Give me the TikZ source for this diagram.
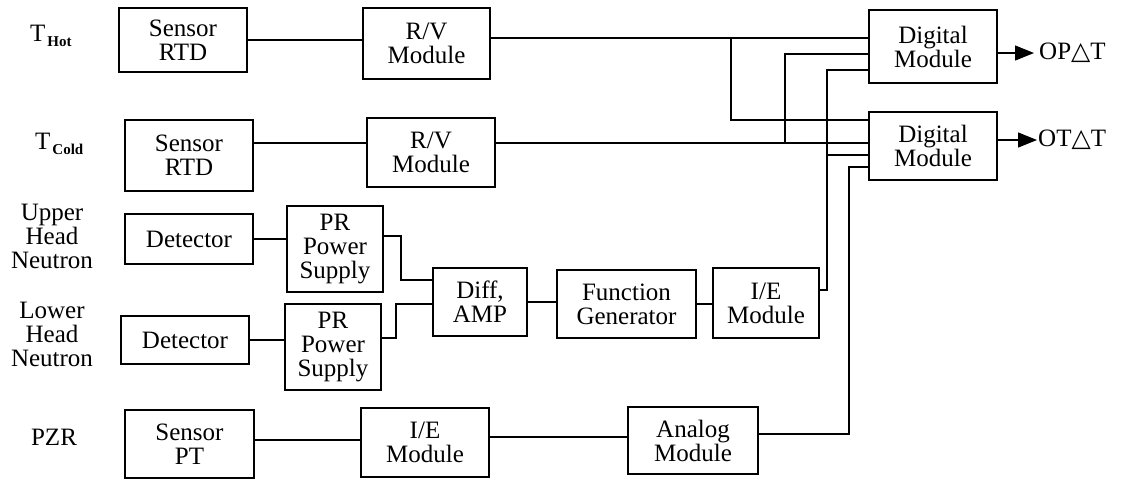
\documentclass[tikz,border=0pt]{standalone}
\usepackage{fontspec}
\setmainfont{Liberation Serif}
\newfontfamily\symfont{DejaVu Sans}
\usetikzlibrary{arrows.meta,calc}
\begin{document}
\begin{tikzpicture}[x=1pt,y=-1pt,
  blk/.style={draw,line width=1.3pt,inner sep=0pt,align=center,font=\fontsize{25}{24}\selectfont},
  lbl/.style={inner sep=0pt,align=center,font=\fontsize{25}{24}\selectfont},
  wire/.style={line width=1.3pt},
  arr/.style={line width=1.3pt,-{Triangle[length=19pt,width=15pt]}}]
\useasboundingbox (0,0) rectangle (1123,480);
% left labels
\node[lbl,anchor=west] (thot) at (30,36) {T\kern2pt\raisebox{-5pt}{\fontsize{15}{15}\selectfont\bfseries Hot}};
\node[lbl,anchor=west] (tcold) at (35,144) {T\kern2pt\raisebox{-5pt}{\fontsize{15}{15}\selectfont\bfseries Cold}};
\node[lbl] (uhn) at (52,236) {Upper\\Head\\Neutron};
\node[lbl] (lhn) at (52,334) {Lower\\Head\\Neutron};
\node[lbl] (pzr) at (54,437) {PZR};
% blocks
\node[blk,minimum width=128,minimum height=64] (srtdh) at (183,40) {Sensor\\RTD};
\node[blk,minimum width=127,minimum height=71] (rvh) at (426.5,43.5) {R/V\\Module};
\node[blk,minimum width=128,minimum height=71] (srtdc) at (189,155.5) {Sensor\\RTD};
\node[blk,minimum width=128,minimum height=69] (rvc) at (431,152.5) {R/V\\Module};
\node[blk,minimum width=128,minimum height=73] (dm1) at (933,46.5) {Digital\\Module};
\node[blk,minimum width=128,minimum height=68] (dm2) at (933,146) {Digital\\Module};
\node[blk,minimum width=128,minimum height=50] (detu) at (189,239) {Detector};
\node[blk,minimum width=96,minimum height=86] (psu) at (335,249) {PR\\Power\\Supply};
\node[blk,minimum width=128,minimum height=48] (detl) at (185,340) {Detector};
\node[blk,minimum width=96,minimum height=86] (psl) at (333,347) {PR\\Power\\Supply};
\node[blk,minimum width=94,minimum height=68] (diff) at (480,302) {Diff,\\AMP};
\node[blk,minimum width=139,minimum height=68] (fg) at (626.5,304) {Function\\Generator};
\node[blk,minimum width=106,minimum height=70] (ie1) at (766,303) {I/E\\Module};
\node[blk,minimum width=129,minimum height=68] (spt) at (189.5,444) {Sensor\\PT};
\node[blk,minimum width=128,minimum height=69] (ie2) at (425,442.5) {I/E\\Module};
\node[blk,minimum width=130,minimum height=67] (ana) at (693,440.5) {Analog\\Module};
% outputs
\node[lbl,anchor=west,inner xsep=5pt] (opdt) at (1034,53) {OP{\symfont △}T};
\node[lbl,anchor=west,inner xsep=1pt] (otdt) at (1037,140) {OT{\symfont △}T};
% hot row
\draw[wire] (srtdh.east) -- (srtdh.east -| rvh.west);
\draw[wire] ([yshift=5.5pt]rvh.east) -- ([yshift=5.5pt]rvh.east -| dm1.west);
\coordinate (bh) at (731,38);
\coordinate (bh2) at (731,120);
\draw[wire] (bh) -- (bh2) -- (bh2 -| dm2.west);
% cold row
\draw[wire] ([yshift=12.5pt]srtdc.east) -- ([yshift=12.5pt]srtdc.east -| rvc.west);
\draw[wire] ([yshift=9.5pt]rvc.east) -- ([yshift=9.5pt]rvc.east -| dm2.west);
\coordinate (bc) at (785,143);
\coordinate (bc2) at (785,54);
\draw[wire] (bc) -- (bc2) -- (bc2 -| dm1.west);
% neutron
\draw[wire] (detu.east) -- (detu.east -| psu.west);
\draw[wire] (detl.east) -- (detl.east -| psl.west);
\coordinate (pu) at (401,280);
\draw[wire] ([yshift=13pt]psu.east) -| (pu) -- (pu -| diff.west);
\coordinate (pl) at (396,304);
\draw[wire] ([yshift=9pt]psl.east) -| (pl) -- (pl -| diff.west);
\draw[wire] (diff.east) -- (diff.east -| fg.west);
\draw[wire] (fg.east) -- (fg.east -| ie1.west);
\coordinate (iex) at (827,70);
\coordinate (ieb) at (827,155);
\draw[wire] ([yshift=13pt]ie1.east) -| (iex) -- (iex -| dm1.west);
\draw[wire] (ieb) -- (ieb -| dm2.west);
% PZR
\draw[wire] ([yshift=4pt]spt.east) -- ([yshift=4pt]spt.east -| ie2.west);
\draw[wire] ([yshift=5.5pt]ie2.east) -- ([yshift=5.5pt]ie2.east -| ana.west);
\coordinate (anx) at (849,167);
\draw[wire] ([yshift=6.5pt]ana.east) -| (anx) -- (anx -| dm2.west);
% output arrows
\draw[arr] ([yshift=-6.5pt]dm1.east) -- (opdt.west);
\draw[arr] ([yshift=6pt]dm2.east) -- (otdt.west);
\end{tikzpicture}
\end{document}
